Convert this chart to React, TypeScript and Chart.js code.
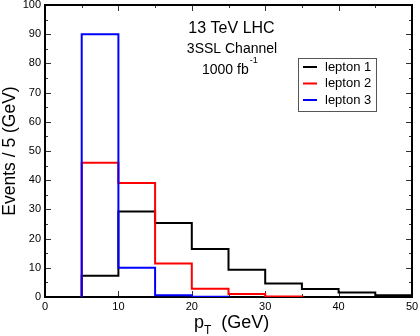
import React, { useEffect, useRef } from "react";
import { Chart, registerables } from "chart.js";

Chart.register(...registerables);

// Bin edges (GeV) and events per 5 GeV bin
const binEdges = [5, 10, 15, 20, 25, 30, 35, 40, 45, 50];
const lepton1 = [7.3, 29.3, 25.3, 16.4, 9.3, 4.6, 2.7, 1.5, 0.6];
const lepton2 = [46, 39, 11.5, 2.8, 1.0, 0.2];
const lepton3 = [90, 10, 0.6, 0.1];
const seriesNames = ["lepton 1", "lepton 2", "lepton 3"];
const seriesColors = ["#000000", "#ff0000", "#0000ff"];
const xMajorTicks = [0, 10, 20, 30, 40, 50];
const xMinorTicks = [5, 15, 25, 35, 45];
const yMajorTicks = [0, 10, 20, 30, 40, 50, 60, 70, 80, 90, 100];
const yMinorTicks = [5, 15, 25, 35, 45, 55, 65, 75, 85, 95];
const titleLines = ["13 TeV LHC", "3SSL Channel", "1000 fb"];

const FONT = "'Liberation Sans', Arial, Helvetica, sans-serif";

function stepPoints(values: number[]) {
  const pts = [{ x: binEdges[0], y: 0 }];
  values.forEach((v, i) => pts.push({ x: binEdges[i], y: v }));
  pts.push({ x: binEdges[values.length], y: 0 });
  return pts;
}

const decor = {
  id: "decor",
  beforeDatasetsDraw(chart: any) {
    const { ctx, chartArea: a, scales } = chart;
    const x = scales.x;
    const y = scales.y;
    ctx.save();
    ctx.strokeStyle = "#333";
    ctx.lineWidth = 1;
    const tick = (vals: number[], len: number) => {
      vals.forEach((v) => {
        const px = Math.round(x.getPixelForValue(v)) + 0.5;
        ctx.beginPath();
        ctx.moveTo(px, a.bottom);
        ctx.lineTo(px, a.bottom - len);
        ctx.moveTo(px, a.top);
        ctx.lineTo(px, a.top + len);
        ctx.stroke();
      });
    };
    const ytick = (vals: number[], len: number) => {
      vals.forEach((v) => {
        const py = Math.round(y.getPixelForValue(v)) + 0.5;
        ctx.beginPath();
        ctx.moveTo(a.left, py);
        ctx.lineTo(a.left + len, py);
        ctx.moveTo(a.right, py);
        ctx.lineTo(a.right - len, py);
        ctx.stroke();
      });
    };
    tick(xMajorTicks, 6);
    tick(xMinorTicks, 3);
    ytick(yMajorTicks, 6);
    ytick(yMinorTicks, 3);
    ctx.strokeStyle = "#000";
    ctx.lineWidth = 2;
    ctx.strokeRect(a.left, a.top, a.right - a.left, a.bottom - a.top);
    ctx.restore();
  },
  afterDraw(chart: any) {
    const { ctx, chartArea: a } = chart;
    ctx.save();
    ctx.fillStyle = "#000";
    // annotation text
    ctx.textBaseline = "alphabetic";
    ctx.textAlign = "center";
    ctx.font = `16px ${FONT}`;
    ctx.fillText(titleLines[0], 231.5, 33);
    ctx.font = `14px ${FONT}`;
    ctx.fillText(titleLines[1], 232, 52.5);
    ctx.font = `14px ${FONT}`;
    ctx.textAlign = "left";
    ctx.fillText(titleLines[2], 202, 73.5);
    const w = ctx.measureText(titleLines[2]).width;
    ctx.font = `9px ${FONT}`;
    ctx.fillText("-1", 202 + w + 1, 63);

    // legend
    ctx.strokeStyle = "#555";
    ctx.lineWidth = 1;
    ctx.strokeRect(298.5, 58.5, 78, 53);
    const rows = [67, 83.5, 100];
    ctx.font = `13px ${FONT}`;
    ctx.textBaseline = "middle";
    seriesNames.forEach((n, i) => {
      ctx.strokeStyle = seriesColors[i];
      ctx.lineWidth = 2;
      ctx.beginPath();
      ctx.moveTo(303, rows[i]);
      ctx.lineTo(317, rows[i]);
      ctx.stroke();
      ctx.fillStyle = "#000";
      ctx.fillText(n, 325, rows[i]);
    });

    // y title
    ctx.save();
    ctx.translate(10, (a.top + a.bottom) / 2);
    ctx.rotate(-Math.PI / 2);
    ctx.textAlign = "center";
    ctx.textBaseline = "middle";
    ctx.font = `17.5px ${FONT}`;
    ctx.fillText("Events / 5 (GeV)", 0, 0);
    ctx.restore();

    // x title
    const cx = (a.left + a.right) / 2;
    let sx = cx - 34.5;
    ctx.textAlign = "left";
    ctx.textBaseline = "alphabetic";
    ctx.font = `18px ${FONT}`;
    ctx.fillText("p", sx, 327.5);
    sx += ctx.measureText("p").width;
    ctx.font = `12px ${FONT}`;
    ctx.fillText("T", sx, 334);
    sx += ctx.measureText("T").width;
    ctx.font = `18px ${FONT}`;
    ctx.fillText("  (GeV)", sx, 327.5);
    ctx.restore();
  },
};

export default function App() {
  const ref = useRef<HTMLCanvasElement>(null);
  useEffect(() => {
    document.body.style.margin = "0";
    const data = [lepton1, lepton2, lepton3];
    const chart = new Chart(ref.current!, {
      type: "line",
      data: {
        datasets: data.map((vals, i) => ({
          label: seriesNames[i],
          data: stepPoints(vals),
          borderColor: seriesColors[i],
          backgroundColor: seriesColors[i],
          borderWidth: 2,
          pointRadius: 0,
          stepped: "before" as const,
          fill: false,
          order: 3 - i,
        })),
      },
      options: {
        animation: false,
        responsive: false,
        events: [],
        layout: { padding: { top: 5, right: 8, left: 0, bottom: 0 } },
        plugins: { legend: { display: false }, tooltip: { enabled: false } },
        scales: {
          x: {
            type: "linear",
            min: 0,
            max: 50,
            grid: { display: false, drawTicks: false },
            border: { display: false },
            ticks: {
              stepSize: 10,
              padding: 3,
              color: "#000",
              font: { family: FONT, size: 11 },
              maxRotation: 0,
            },
            afterFit: (s: any) => {
              s.height = 39;
              s.paddingLeft = 0;
              s.paddingRight = 0;
            },
          },
          y: {
            min: 0,
            max: 100,
            grid: { display: false, drawTicks: false },
            border: { display: false },
            ticks: {
              stepSize: 10,
              padding: 4,
              color: "#000",
              font: { family: FONT, size: 11 },
            },
            afterFit: (s: any) => {
              s.width = 45;
              s.paddingTop = 0;
              s.paddingBottom = 0;
            },
          },
        },
      },
      plugins: [decor],
    });
    return () => chart.destroy();
  }, []);
  return (
    <div style={{ position: "fixed", left: 0, top: 0, width: 420, height: 336, background: "#fff" }}>
      <canvas ref={ref} width={420} height={336} style={{ display: "block" }} />
    </div>
  );
}
